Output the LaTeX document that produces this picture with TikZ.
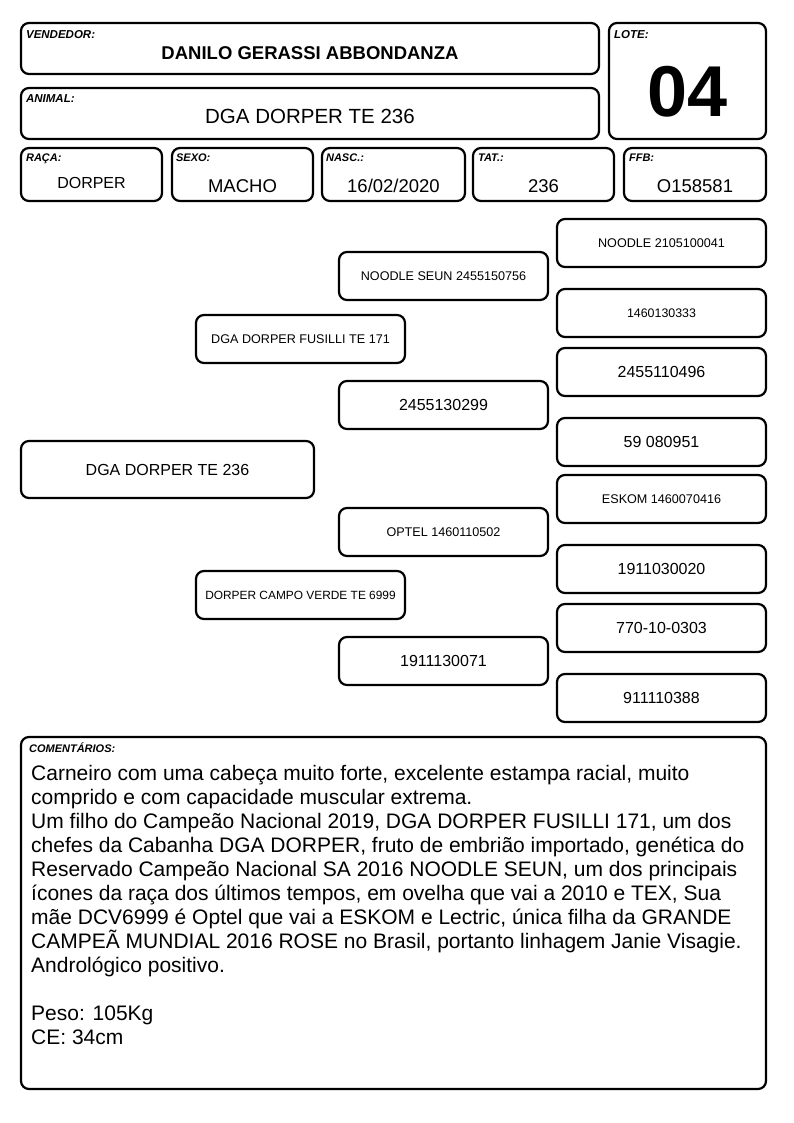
\documentclass[tikz,border=0pt]{standalone}
\usepackage{fontspec}
\setmainfont{Liberation Sans}
\begin{document}
\begin{tikzpicture}[x=1pt, y=-1pt, line join=round, line cap=round,
    box/.style={draw, line width=2.2pt, rounded corners=8pt, inner sep=0pt},
    lbl/.style={anchor=north west, inner sep=0pt, font=\fontsize{11}{13}\selectfont\bfseries\itshape},
    val/.style={inner sep=0pt, font=\fontsize{18.5}{22}\selectfont},
    ped/.style={box, minimum width=209, minimum height=48, font=\fontsize{16}{18}\selectfont},
    small/.style={font=\fontsize{12.6}{15}\selectfont}]
    \useasboundingbox (0,0) rectangle (794,1123);
    % cabecalho
    \node[box, minimum width=578, minimum height=51] (vend) at (310,48.5) {};
    \node[box, minimum width=578, minimum height=51] (anim) at (310,113.5) {};
    \node[box, minimum width=157, minimum height=116] (lote) at (687.5,81) {};
    \node[lbl, font=\fontsize{11.5}{13}\selectfont\bfseries\itshape] (vendlbl) at ([shift={(6,8)}]vend.north west) {VENDEDOR:};
    \node[lbl, font=\fontsize{11.5}{13}\selectfont\bfseries\itshape] (animlbl) at ([shift={(6,7)}]anim.north west) {ANIMAL:};
    \node[lbl, font=\fontsize{11.5}{13}\selectfont\bfseries\itshape] (lotelbl) at ([shift={(6,8)}]lote.north west) {LOTE:};
    \node[val, font=\fontsize{18.5}{22}\selectfont\bfseries] (vendval) at ([yshift=-4.5]vend.center) {DANILO GERASSI ABBONDANZA};
    \node[val, font=\fontsize{20.5}{24}\selectfont] (animval) at ([yshift=-2.5]anim.center) {DGA DORPER TE 236};
    \node[val, font=\fontsize{72}{80}\selectfont\bfseries] (loteval) at ([yshift=-11]lote.center) {04};
    % dados
    \node[box, minimum width=141, minimum height=53] (raca) at (91.5,174.5) {};
    \node[box, minimum width=141, minimum height=53] (sexo) at (242.5,174.5) {};
    \node[box, minimum width=143, minimum height=53] (nasc) at (393.5,174.5) {};
    \node[box, minimum width=141, minimum height=53] (tat) at (543.5,174.5) {};
    \node[box, minimum width=142, minimum height=53] (ffb) at (695,174.5) {};
    \node[lbl] (racalbl) at ([shift={(6,7)}]raca.north west) {RAÇA:};
    \node[lbl] (sexolbl) at ([shift={(5,7)}]sexo.north west) {SEXO:};
    \node[lbl] (nasclbl) at ([shift={(5,7)}]nasc.north west) {NASC.:};
    \node[lbl] (tatlbl) at ([shift={(6,7)}]tat.north west) {TAT.:};
    \node[lbl] (ffblbl) at ([shift={(6,7)}]ffb.north west) {FFB:};
    \node[val, font=\fontsize{16}{18}\selectfont] (racaval) at ([yshift=-8.5]raca.center) {DORPER};
    \node[val] (sexoval) at ([yshift=-11.5]sexo.center) {MACHO};
    \node[val] (nascval) at ([yshift=-11.5]nasc.center) {16/02/2020};
    \node[val] (tatval) at ([yshift=-11.5]tat.center) {236};
    \node[val] (ffbval) at ([yshift=-11.5]ffb.center) {O158581};
    % genealogia
    \node[box, minimum width=293, minimum height=57, font=\fontsize{16}{18}\selectfont] (animal) at (167.5,469.5) {DGA DORPER TE 236};
    \node[ped, small] (pai) at (300.5,339) {DGA DORPER FUSILLI TE 171};
    \node[ped, font=\fontsize{11.9}{14}\selectfont] (mae) at (300.5,595) {DORPER CAMPO VERDE TE 6999};
    \node[ped, small] (avopp) at (443.5,276) {NOODLE SEUN 2455150756};
    \node[ped] (avopm) at (443.5,405) {2455130299};
    \node[ped, small] (avomp) at (443.5,532) {OPTEL 1460110502};
    \node[ped] (avomm) at (443.5,661) {1911130071};
    \node[ped, small] (bis1) at (661.5,243) {NOODLE 2105100041};
    \node[ped, font=\fontsize{12.4}{15}\selectfont] (bis2) at (661.5,313) {1460130333};
    \node[ped] (bis3) at (661.5,372) {2455110496};
    \node[ped] (bis4) at (661.5,442) {59 080951};
    \node[ped, small] (bis5) at (661.5,499) {ESKOM 1460070416};
    \node[ped] (bis6) at (661.5,569) {1911030020};
    \node[ped] (bis7) at (661.5,628) {770-10-0303};
    \node[ped] (bis8) at (661.5,698) {911110388};
    % comentarios
    \node[box, minimum width=745, minimum height=352] (coment) at (393.5,913) {};
    \node[lbl] (comentlbl) at ([shift={(9,7)}]coment.north west) {COMENTÁRIOS:};
    \node[anchor=north west, inner sep=0pt, align=left, font=\fontsize{21}{24}\selectfont] (comenttxt) at (31,765) {%
        Carneiro com uma cabeça muito forte, excelente estampa racial, muito\\
        comprido e com capacidade muscular extrema.\\
        Um filho do Campeão Nacional 2019, DGA DORPER FUSILLI 171, um dos\\
        chefes da Cabanha DGA DORPER, fruto de embrião importado, genética do\\
        Reservado Campeão Nacional SA 2016 NOODLE SEUN, um dos principais\\
        ícones da raça dos últimos tempos, em ovelha que vai a 2010 e TEX, Sua\\
        mãe DCV6999 é Optel que vai a ESKOM e Lectric, única filha da GRANDE\\
        CAMPEÃ MUNDIAL 2016 ROSE no Brasil, portanto linhagem Janie Visagie.\\
        Andrológico positivo.\\[24pt]
        Peso: 105Kg\\
        CE: 34cm};
\end{tikzpicture}
\end{document}
